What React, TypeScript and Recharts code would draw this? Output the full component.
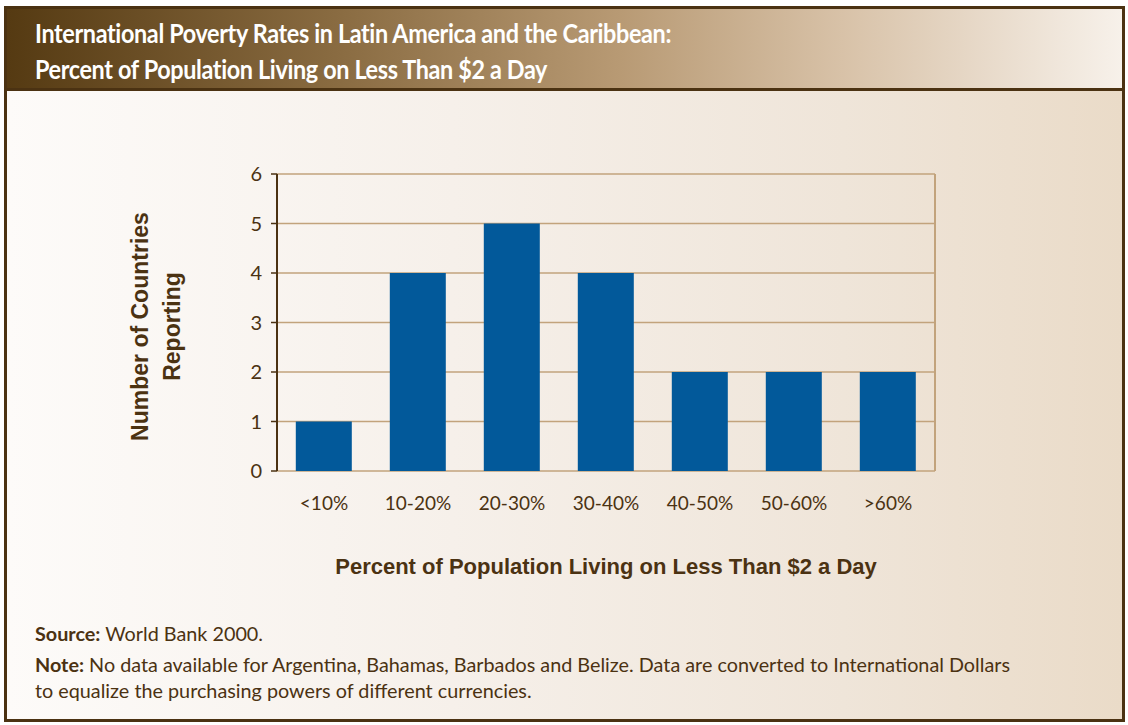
import React from 'react';
import { Bar, BarChart, CartesianGrid, ReferenceLine, XAxis, YAxis } from 'recharts';

const categories = ['<10%', '10-20%', '20-30%', '30-40%', '40-50%', '50-60%', '>60%'];
const countries = [1, 4, 5, 4, 2, 2, 2];
const yTicks = [0, 1, 2, 3, 4, 5, 6];
const bandEdges = [0, 1, 2, 3, 4, 5, 6, 7];

const data = categories.map((band, i) => ({ band, count: countries[i], pos: i + 0.5 }));

const BROWN = '#4b3212';
const TAN = '#c2a37c';
const BLUE = '#02599a';
const LATO = 'Lato, sans-serif';
const ARIAL = '"Liberation Sans", Arial, sans-serif';

export default function App() {
  return (
    <div style={{ position: 'fixed', left: 0, top: 0, width: 1128, height: 725, background: '#fff' }}>
      {/* frame */}
      <div
        style={{
          position: 'absolute',
          left: 4,
          top: 6,
          width: 1115,
          height: 710,
          border: `3px solid ${BROWN}`,
          background: 'linear-gradient(to right, #fdfbf9 0%, #f6f0ea 40%, #efe5d9 75%, #eadbc8 100%)',
        }}
      >
        <div
          style={{
            height: 82,
            borderBottom: `3px solid ${BROWN}`,
            background: 'linear-gradient(to right, #553a12 0%, #8a6c42 30%, #b89a74 55%, #d8c2a8 75%, #f7f1ea 100%)',
            color: '#fff',
            fontFamily: LATO,
            fontWeight: 'bold',
            fontSize: 26,
            lineHeight: '36px',
            padding: '6px 0 0 28px',
            boxSizing: 'border-box',
          }}
        >
          <div style={{ transform: 'scaleX(0.9)', transformOrigin: 'left', whiteSpace: 'nowrap', letterSpacing: -0.4 }}>
            <div>International Poverty Rates in Latin America and the Caribbean:</div>
            <div>Percent of Population Living on Less Than $2 a Day</div>
          </div>
        </div>
      </div>

      <div style={{ position: 'absolute', left: 0, top: 0 }}>
        <BarChart
          width={1128}
          height={725}
          data={data}
          margin={{ top: 174, right: 193, bottom: 224, left: 217 }}
          barCategoryGap="20%"
        >
          <CartesianGrid horizontal vertical={false} stroke={TAN} strokeWidth={1.5} />
          <XAxis
            xAxisId="edges"
            type="number"
            dataKey="pos"
            domain={[0, 7]}
            ticks={bandEdges}
            height={0}
            axisLine={{ stroke: BROWN, strokeWidth: 2 }}
            tickLine={{ stroke: BROWN, strokeWidth: 1.5 }}
            tickSize={6}
            tickFormatter={() => ''}
          />
          <XAxis
            xAxisId="bands"
            dataKey="band"
            height={30}
            axisLine={false}
            tickLine={false}
            tickMargin={20}
            tick={{ fill: BROWN, fontSize: 19, fontFamily: LATO }}
            label={{
              value: 'Percent of Population Living on Less Than $2 a Day',
              position: 'insideTop',
              offset: 87,
              fill: BROWN,
              fontSize: 22,
              fontWeight: 'bold',
              fontFamily: ARIAL,
            }}
          />
          <YAxis
            domain={[0, 6]}
            ticks={yTicks}
            width={60}
            interval={0}
            axisLine={{ stroke: BROWN, strokeWidth: 2 }}
            tickLine={{ stroke: BROWN, strokeWidth: 1.5 }}
            tickSize={6}
            tickMargin={9}
            tick={{ fill: BROWN, fontSize: 20, fontFamily: LATO }}
            label={({ viewBox }: any) => {
              const cy = viewBox.y + viewBox.height / 2 + 4;
              return (
                <g fill={BROWN} fontSize={23} fontWeight="bold" fontFamily={ARIAL} textAnchor="middle">
                  <text x={148} y={cy} transform={`rotate(-90 148 ${cy})`}>
                    Number of Countries
                  </text>
                  <text x={180} y={cy} transform={`rotate(-90 180 ${cy})`}>
                    Reporting
                  </text>
                </g>
              );
            }}
          />
          <ReferenceLine xAxisId="edges" x={7} stroke={TAN} strokeWidth={2} />
          <Bar dataKey="count" xAxisId="bands" fill={BLUE} isAnimationActive={false} />
        </BarChart>
      </div>

      <div
        style={{
          position: 'absolute',
          left: 35,
          top: 620,
          fontFamily: LATO,
          fontSize: 19.8,
          color: BROWN,
          lineHeight: '26px',
        }}
      >
        <div style={{ marginBottom: 5 }}>
          <b>Source:</b> World Bank 2000.
        </div>
        <div>
          <b>Note:</b> No data available for Argentina, Bahamas, Barbados and Belize. Data are converted to International Dollars
        </div>
        <div>to equalize the purchasing powers of different currencies.</div>
      </div>
    </div>
  );
}
